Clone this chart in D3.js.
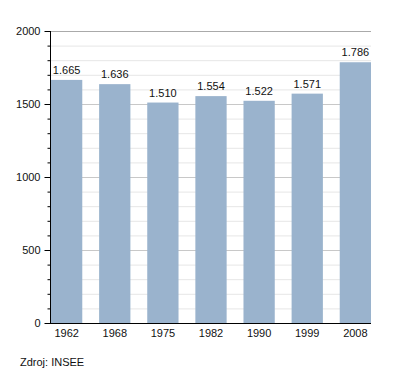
<!DOCTYPE html>
<html>
<head>
<meta charset="utf-8">
<script src="https://cdn.jsdelivr.net/npm/d3@7"></script>
<style>
  body { margin: 0; background: #fff; }
  text { font-family: "Liberation Sans", Arial, sans-serif; }
</style>
</head>
<body>
<svg id="chart" width="400" height="373"></svg>
<script>
const years = ['1962', '1968', '1975', '1982', '1990', '1999', '2008'];
const population = [1665, 1636, 1510, 1554, 1522, 1571, 1786];
const majorTicks = [0, 500, 1000, 1500, 2000];

const svg = d3.select('#chart');
const plotLeft = 50, plotRight = 371, plotTop = 31, plotBottom = 323;

const x = d3.scaleBand().domain(years).range([plotLeft + 1, plotRight]).paddingInner(0.35).paddingOuter(0);
const y = d3.scaleLinear().domain([0, 2000]).range([plotBottom, plotTop]);

// minor grid every 100
const minor = d3.range(100, 2000, 100).filter(v => v % 500 !== 0);
svg.append('g').selectAll('line').data(minor).enter().append('line')
  .attr('x1', plotLeft).attr('x2', plotRight)
  .attr('y1', d => y(d) + 0.5).attr('y2', d => y(d) + 0.5)
  .attr('stroke', '#e6e6e6');
svg.append('g').selectAll('line').data(majorTicks.filter(v => v > 0)).enter().append('line')
  .attr('x1', plotLeft).attr('x2', plotRight)
  .attr('y1', d => y(d) + 0.5).attr('y2', d => y(d) + 0.5)
  .attr('stroke', d => d === 2000 ? '#aaaaaa' : '#c8c8c8');

// bars
svg.append('g').selectAll('rect').data(population).enter().append('rect')
  .attr('x', (d, i) => x(years[i]))
  .attr('width', x.bandwidth())
  .attr('y', d => y(d))
  .attr('height', d => plotBottom - y(d))
  .attr('fill', '#9ab3cd');

// value labels
svg.append('g').selectAll('text').data(population).enter().append('text')
  .attr('x', (d, i) => x(years[i]) + x.bandwidth() / 2)
  .attr('y', d => y(d) - 6)
  .attr('text-anchor', 'middle')
  .attr('font-size', 11)
  .attr('fill', '#111')
  .text(d => d3.format(',')(d).replace(',', '.'));

// y axis
const yAxis = svg.append('g').attr('transform', `translate(${plotLeft + 0.5},0)`)
  .call(d3.axisLeft(y).tickValues(majorTicks).tickSize(6).tickPadding(4).tickFormat(d3.format('d')));
yAxis.select('.domain').remove();
yAxis.selectAll('text').attr('font-size', 11).attr('fill', '#111').style('font-family', '"Liberation Sans", Arial, sans-serif');
svg.append('g').attr('transform', `translate(${plotLeft + 0.5},0)`)
  .call(d3.axisLeft(y).tickValues(minor).tickSize(3).tickFormat(''))
  .select('.domain').remove();
svg.append('line').attr('x1', plotLeft + 0.5).attr('x2', plotLeft + 0.5).attr('y1', plotTop).attr('y2', plotBottom + 1)
  .attr('stroke', '#000');

// x axis
const xAxis = svg.append('g').attr('transform', `translate(0,${plotBottom + 0.5})`)
  .call(d3.axisBottom(x).tickSize(0).tickPadding(6));
xAxis.select('.domain').remove();
xAxis.selectAll('text').attr('font-size', 11).attr('fill', '#111').style('font-family', '"Liberation Sans", Arial, sans-serif');
svg.append('line').attr('x1', plotLeft).attr('x2', plotRight).attr('y1', plotBottom + 0.5).attr('y2', plotBottom + 0.5)
  .attr('stroke', '#000');

svg.append('text').attr('x', 20).attr('y', 366).attr('font-size', 11).attr('fill', '#111')
  .text('Zdroj: INSEE');
</script>
</body>
</html>
